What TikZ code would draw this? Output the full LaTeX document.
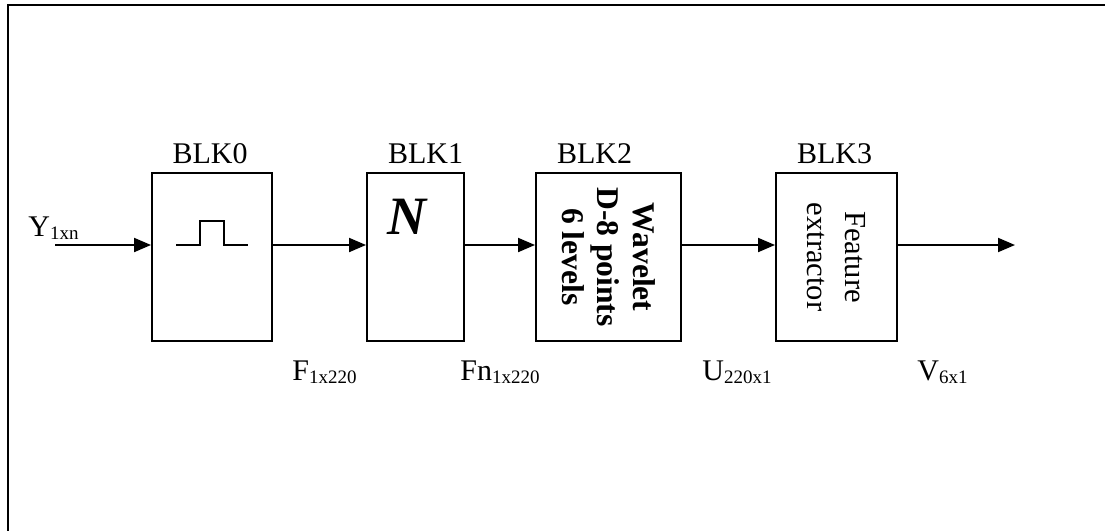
\documentclass[tikz,border=0pt]{standalone}
\usepackage{fontspec}
\setmainfont{Liberation Serif}
\usetikzlibrary{arrows.meta}
\newcommand{\sigsub}[1]{\raisebox{-1.6pt}{\fontsize{9.5}{10}\selectfont #1}}
\begin{document}
\begin{tikzpicture}[x=0.5pt,y=-0.5pt,
  font=\fontsize{15}{17.5}\selectfont,
  blk/.style={draw, line width=0.95pt, minimum height=84pt, inner sep=0pt},
  lbl/.style={anchor=base, inner sep=0pt},
  sig/.style={anchor=base west, inner sep=0pt},
  rot/.style={rotate=-90, align=center, inner sep=0pt},
  flow/.style={line width=0.95pt, -{Triangle[length=8.5pt,width=7pt]}}]
\useasboundingbox (0,0) rectangle (1105,531);
\draw[line width=1.3pt] (8,531) -- (8,5) -- (1105,5);

\node[blk, minimum width=60pt] (b0) at (212,257) {};
\node[blk, minimum width=48.5pt] (b1) at (415.5,257) {};
\node[blk, minimum width=72.5pt] (b2) at (608.5,257) {};
\node[blk, minimum width=60.5pt] (b3) at (836.5,257) {};

\node[lbl] (t0) at (210,163) {BLK0};
\node[lbl] (t1) at (425.5,163) {BLK1};
\node[lbl] (t2) at (594.5,163) {BLK2};
\node[lbl] (t3) at (834.5,163) {BLK3};

\draw[line width=0.95pt] (176,245) -- (200,245) -- (200,221) -- (224,221) -- (224,245) -- (248,245);
\node[lbl, font=\fontsize{27}{30}\selectfont\bfseries\itshape] (n) at (407,234) {N};
\node[rot, font=\fontsize{15.8}{17.8}\selectfont\bfseries] (w) at (b2.center) {Wavelet\\D-8 points\\6 levels};
\node[rot, font=\fontsize{15.3}{18.8}\selectfont] (f) at (b3.center) {Feature\\extractor};

\coordinate (in) at (55,245);
\coordinate (out) at (1015,245);
\draw[flow] (in) -- (in -| b0.west);
\draw[flow] (in -| b0.east) -- (in -| b1.west);
\draw[flow] (in -| b1.east) -- (in -| b2.west);
\draw[flow] (in -| b2.east) -- (in -| b3.west);
\draw[flow] (in -| b3.east) -- (out);

\node[sig] (y) at (28,236) {Y\sigsub{1xn}};
\node[sig] (fs) at (292,380) {F\sigsub{1x220}};
\node[sig] (fn) at (460,380) {Fn\sigsub{1x220}};
\node[sig] (u) at (702,380) {U\sigsub{220x1}};
\node[sig] (v) at (917,380) {V\sigsub{6x1}};
\end{tikzpicture}
\end{document}
